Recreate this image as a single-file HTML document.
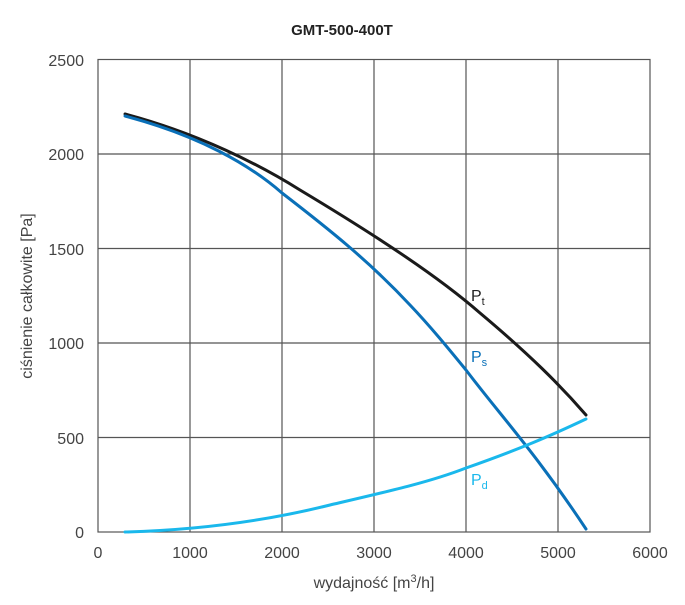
<!DOCTYPE html>
<html><head><meta charset="utf-8"><style>body{margin:0;background:#fff}</style></head><body>
<svg width="685" height="600" xmlns="http://www.w3.org/2000/svg" font-family="Liberation Sans, sans-serif">
<rect width="685" height="600" fill="#fff"/>
<text x="342" y="35" text-anchor="middle" font-size="15" font-weight="bold" fill="#222">GMT-500-400T</text>
<g stroke="#555" stroke-width="1.2" fill="none">
<rect x="98" y="59.5" width="552" height="472.5"/>
<line x1="190" y1="59.5" x2="190" y2="532"/><line x1="282" y1="59.5" x2="282" y2="532"/>
<line x1="374" y1="59.5" x2="374" y2="532"/><line x1="466" y1="59.5" x2="466" y2="532"/>
<line x1="558" y1="59.5" x2="558" y2="532"/>
<line x1="98" y1="154" x2="650" y2="154"/><line x1="98" y1="248.5" x2="650" y2="248.5"/>
<line x1="98" y1="343" x2="650" y2="343"/><line x1="98" y1="437.5" x2="650" y2="437.5"/>
</g>
<g font-size="16" fill="#444" text-anchor="end">
<text x="84" y="66">2500</text><text x="84" y="160">2000</text><text x="84" y="255">1500</text>
<text x="84" y="349">1000</text><text x="84" y="444">500</text><text x="84" y="538">0</text>
</g>
<g font-size="16" fill="#444" text-anchor="middle">
<text x="98" y="558">0</text><text x="190" y="558">1000</text><text x="282" y="558">2000</text>
<text x="374" y="558">3000</text><text x="466" y="558">4000</text><text x="558" y="558">5000</text><text x="650" y="558">6000</text>
</g>
<text x="374" y="588" text-anchor="middle" font-size="16" fill="#444">wydajność [m<tspan font-size="11" dy="-6">3</tspan><tspan dy="6">/h]</tspan></text>
<text transform="translate(32,296) rotate(-90)" text-anchor="middle" font-size="16" fill="#444">ciśnienie całkowite [Pa]</text>
<g fill="none" stroke-width="3" stroke-linecap="round" stroke-linejoin="round">
<path stroke="#1a1a1a" d="M125,114 C200,134 260,165 300,190 C380,238 440,278 480,313 C530,355 560,385 586,415"/>
<path stroke="#0a70b8" d="M125,116 C200,136 250,165 282,193 C330,230 370,262 410,305 C430,326 448,348 466,370 C500,415 535,452 586,529"/>
<path stroke="#1ab8ec" d="M125,532 C200,530 270,520 330,505 C390,491 430,482 466,468 C520,449 550,436 586,419"/>
</g>
<text x="471" y="301" font-size="16" fill="#222">P<tspan font-size="11" dy="4">t</tspan></text>
<text x="471" y="362" font-size="16" fill="#0a70b8">P<tspan font-size="11" dy="4">s</tspan></text>
<text x="471" y="485" font-size="16" fill="#1ab8ec">P<tspan font-size="11" dy="4">d</tspan></text>
</svg>
</body></html>
